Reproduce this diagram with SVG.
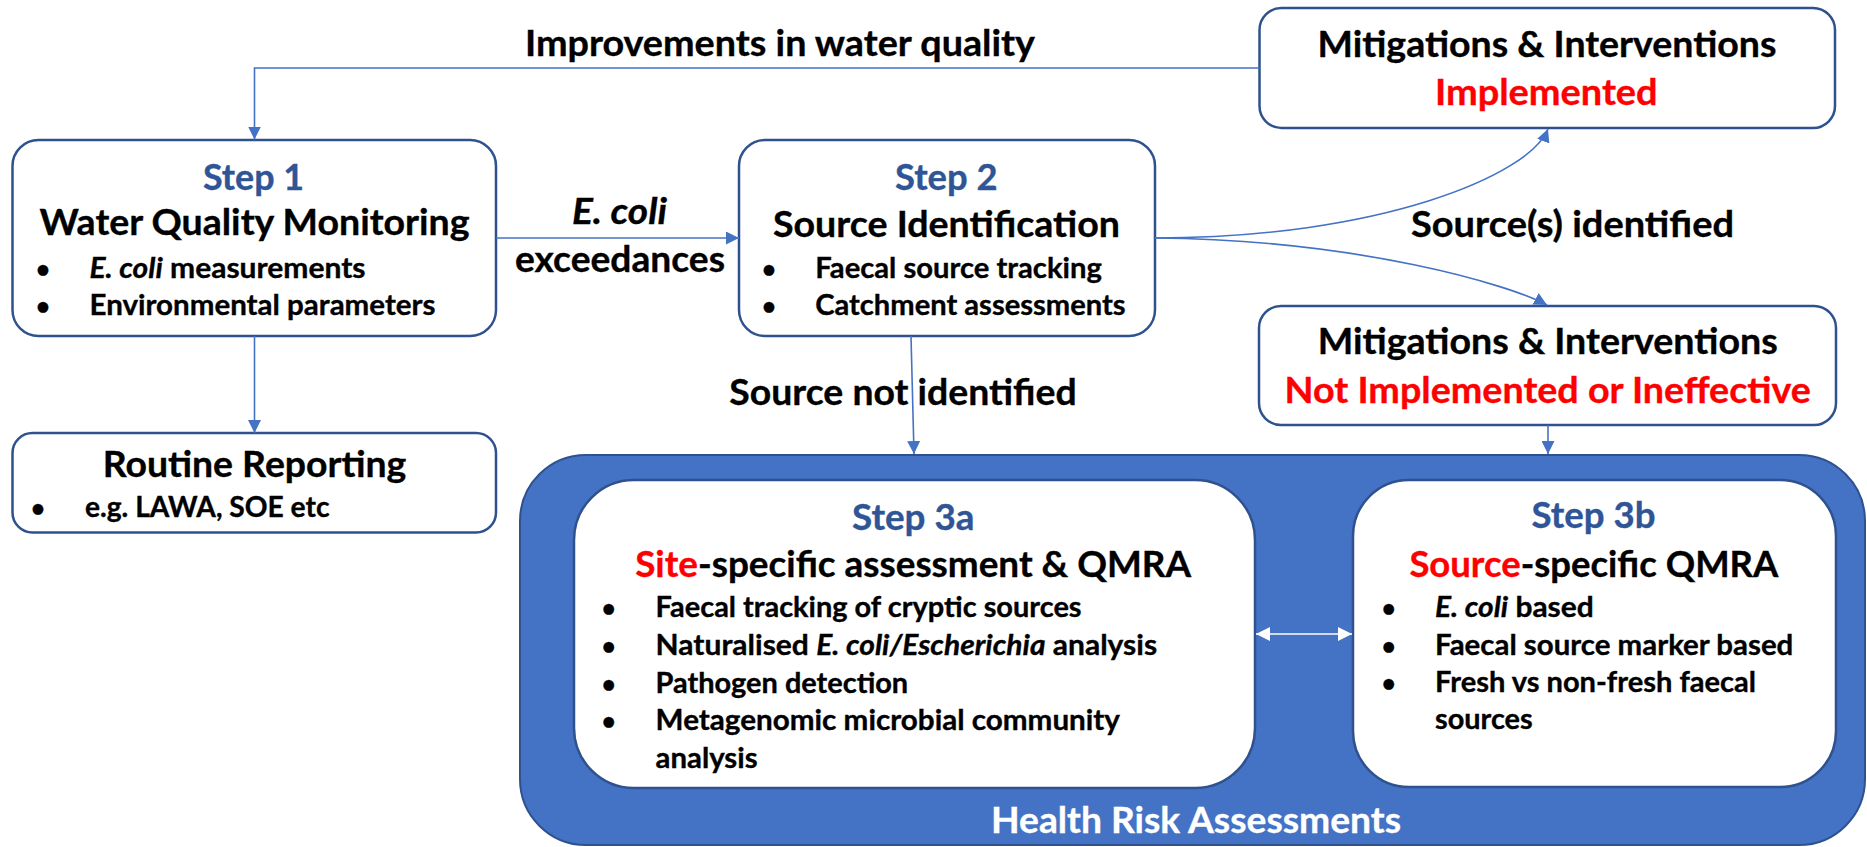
<svg xmlns="http://www.w3.org/2000/svg" width="1867" height="847" viewBox="0 0 1867 847">
  <style>
    .t { font-family: Lato, "Liberation Sans", sans-serif; font-weight: 700; font-size: 36px; fill: #000; stroke: #000; stroke-width: 0.35px; }
    .b { font-size: 28.5px; }
    .dot { font-size: 24px; }
    .step { fill: #2F5597; stroke: #2F5597; }
    .red { fill: #FF0000; stroke: #FF0000; }
    .wht { fill: #FFFFFF; stroke: #FFFFFF; }
    .it { font-style: italic; }
    .box { fill: #FFFFFF; stroke: #2F528F; stroke-width: 2.5; }
    .conn { fill: none; stroke: #4472C4; stroke-width: 1.6; }
  </style>
  <defs>
    <marker id="arrow" viewBox="0 0 13 13" refX="13" refY="6.5" markerWidth="13" markerHeight="13" markerUnits="userSpaceOnUse" orient="auto">
      <path d="M0,0 L13,6.5 L0,13 Z" fill="#4472C4"/>
    </marker>
    <marker id="arrowW" viewBox="0 0 14 14" refX="14" refY="7" markerWidth="14" markerHeight="14" markerUnits="userSpaceOnUse" orient="auto-start-reverse">
      <path d="M0,0 L14,7 L0,14 Z" fill="#FFFFFF"/>
    </marker>
  </defs>

  <!-- Health risk assessment container -->
  <g id="health-risk-assessments">
    <rect x="520" y="455" width="1345" height="390" rx="66" fill="#4472C4" stroke="#2F528F" stroke-width="2"/>
    <text class="t wht" x="991" y="833" textLength="410" lengthAdjust="spacingAndGlyphs">Health Risk Assessments</text>
  </g>

  <g id="step1">
    <rect class="box" x="12.5" y="140" width="483.5" height="196" rx="26"/>
    <text class="t step" x="203" y="190" textLength="101" lengthAdjust="spacingAndGlyphs">Step 1</text>
    <text class="t" x="39.5" y="235" textLength="430" lengthAdjust="spacingAndGlyphs">Water Quality Monitoring</text>
    <text class="t dot" x="43" y="278" text-anchor="middle">•</text>
    <text class="t b" x="89.5" y="278" textLength="276" lengthAdjust="spacingAndGlyphs"><tspan class="it">E. coli</tspan> measurements</text>
    <text class="t dot" x="43" y="315" text-anchor="middle">•</text>
    <text class="t b" x="89.5" y="315" textLength="346" lengthAdjust="spacingAndGlyphs">Environmental parameters</text>
  </g>

  <g id="routine-reporting">
    <rect class="box" x="12.5" y="433" width="483.5" height="99.5" rx="20"/>
    <text class="t" x="102.7" y="477" textLength="303.6" lengthAdjust="spacingAndGlyphs">Routine Reporting</text>
    <text class="t dot" x="38" y="517" text-anchor="middle">•</text>
    <text class="t b" x="85" y="517" textLength="244.5" lengthAdjust="spacingAndGlyphs">e.g. LAWA, SOE etc</text>
  </g>

  <g id="step2">
    <rect class="box" x="739" y="140" width="416" height="196" rx="26"/>
    <text class="t step" x="895" y="190" textLength="102.6" lengthAdjust="spacingAndGlyphs">Step 2</text>
    <text class="t" x="773" y="237" textLength="347" lengthAdjust="spacingAndGlyphs">Source Identification</text>
    <text class="t dot" x="769" y="278" text-anchor="middle">•</text>
    <text class="t b" x="815.3" y="278" textLength="286.5" lengthAdjust="spacingAndGlyphs">Faecal source tracking</text>
    <text class="t dot" x="769" y="315" text-anchor="middle">•</text>
    <text class="t b" x="815.3" y="315" textLength="310.3" lengthAdjust="spacingAndGlyphs">Catchment assessments</text>
  </g>

  <g id="mitigations-implemented">
    <rect class="box" x="1259.5" y="8" width="575.5" height="120" rx="22"/>
    <text class="t" x="1317.5" y="57" textLength="459" lengthAdjust="spacingAndGlyphs">Mitigations &amp; Interventions</text>
    <text class="t red" x="1435" y="105" textLength="222.6" lengthAdjust="spacingAndGlyphs">Implemented</text>
  </g>

  <g id="mitigations-not-implemented">
    <rect class="box" x="1259" y="306" width="577" height="119" rx="22"/>
    <text class="t" x="1317.7" y="354" textLength="460" lengthAdjust="spacingAndGlyphs">Mitigations &amp; Interventions</text>
    <text class="t red" x="1284.6" y="403" textLength="526.4" lengthAdjust="spacingAndGlyphs">Not Implemented or Ineffective</text>
  </g>

  <g id="step3a">
    <rect class="box" x="574" y="480" width="681" height="308" rx="60"/>
    <text class="t step" x="852" y="530" textLength="122.5" lengthAdjust="spacingAndGlyphs">Step 3a</text>
    <text class="t" x="635.2" y="577" textLength="556" lengthAdjust="spacingAndGlyphs"><tspan class="red">Site</tspan>-specific assessment &amp; QMRA</text>
    <text class="t dot" x="608.7" y="617" text-anchor="middle">•</text>
    <text class="t b" x="655.6" y="617" textLength="426" lengthAdjust="spacingAndGlyphs">Faecal tracking of cryptic sources</text>
    <text class="t dot" x="608.7" y="655" text-anchor="middle">•</text>
    <text class="t b" x="655.6" y="655" textLength="501.5" lengthAdjust="spacingAndGlyphs">Naturalised <tspan class="it">E. coli/Escherichia</tspan> analysis</text>
    <text class="t dot" x="608.7" y="693" text-anchor="middle">•</text>
    <text class="t b" x="655.6" y="693" textLength="252.6" lengthAdjust="spacingAndGlyphs">Pathogen detection</text>
    <text class="t dot" x="608.7" y="730" text-anchor="middle">•</text>
    <text class="t b" x="655.6" y="730" textLength="464.4" lengthAdjust="spacingAndGlyphs">Metagenomic microbial community</text>
    <text class="t b" x="655.6" y="768" textLength="102" lengthAdjust="spacingAndGlyphs">analysis</text>
  </g>

  <g id="step3b">
    <rect class="box" x="1353" y="480" width="483" height="307" rx="56"/>
    <text class="t step" x="1531.5" y="528" textLength="124" lengthAdjust="spacingAndGlyphs">Step 3b</text>
    <text class="t" x="1409.4" y="577" textLength="369" lengthAdjust="spacingAndGlyphs"><tspan class="red">Source</tspan>-specific QMRA</text>
    <text class="t dot" x="1388.6" y="617" text-anchor="middle">•</text>
    <text class="t b" x="1435" y="617" textLength="158.7" lengthAdjust="spacingAndGlyphs"><tspan class="it">E. coli</tspan> based</text>
    <text class="t dot" x="1388.6" y="655" text-anchor="middle">•</text>
    <text class="t b" x="1435" y="655" textLength="358.3" lengthAdjust="spacingAndGlyphs">Faecal source marker based</text>
    <text class="t dot" x="1388.6" y="692" text-anchor="middle">•</text>
    <text class="t b" x="1435" y="692" textLength="321" lengthAdjust="spacingAndGlyphs">Fresh vs non-fresh faecal</text>
    <text class="t b" x="1435" y="729" textLength="97.7" lengthAdjust="spacingAndGlyphs">sources</text>
  </g>

  <!-- Connectors and their labels -->
  <g id="connectors">
    <path class="conn" d="M1259.5,68 H254.5 V139.5" marker-end="url(#arrow)"/>
    <path class="conn" d="M254.5,336 V433" marker-end="url(#arrow)"/>
    <path class="conn" d="M496,238 H739" marker-end="url(#arrow)"/>
    <path class="conn" d="M1155,238 C1380,238 1530,175 1548,129" marker-end="url(#arrow)"/>
    <path class="conn" d="M1155,238 C1360,240 1510,285 1547,305" marker-end="url(#arrow)"/>
    <path class="conn" d="M911,336 L914,454" marker-end="url(#arrow)"/>
    <path class="conn" d="M1548,425 V454" marker-end="url(#arrow)"/>
    <path d="M1256,634 H1352" fill="none" stroke="#FFFFFF" stroke-width="1.6" marker-start="url(#arrowW)" marker-end="url(#arrowW)"/>

    <text class="t" x="525" y="56" textLength="510" lengthAdjust="spacingAndGlyphs">Improvements in water quality</text>
    <text class="t it" x="572" y="224" textLength="95" lengthAdjust="spacingAndGlyphs">E. coli</text>
    <text class="t" x="515" y="272" textLength="210" lengthAdjust="spacingAndGlyphs">exceedances</text>
    <text class="t" x="1411" y="237" textLength="323" lengthAdjust="spacingAndGlyphs">Source(s) identified</text>
    <text class="t" x="729.3" y="405" textLength="347.4" lengthAdjust="spacingAndGlyphs">Source not identified</text>
  </g>
</svg>
